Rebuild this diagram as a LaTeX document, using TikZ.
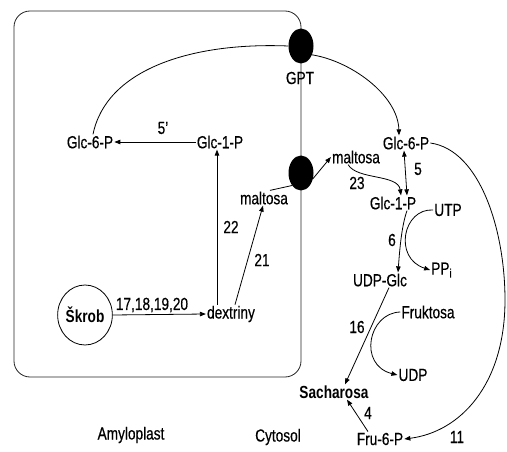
\documentclass[tikz,border=0pt]{standalone}
\usepackage{fontspec}
\setmainfont{Liberation Sans}[FakeStretch=0.78, FakeBold=0.4, BoldFeatures={FakeBold=0}]
\usetikzlibrary{arrows.meta,shapes.geometric,calc}
\begin{document}
\begin{tikzpicture}[x=1pt,y=-1pt,
  every node/.style={font=\fontsize{17.5}{20}\selectfont, inner sep=1pt},
  conn/.style={line width=0.8pt},
  arr/.style={conn,-{Triangle[length=6pt,width=4.5pt]}},
  darr/.style={conn,{Triangle[length=6pt,width=4.5pt]}-{Triangle[length=6pt,width=4.5pt]}},
  porter/.style={ellipse, fill=black, minimum width=25pt, minimum height=35pt, inner sep=0pt}]
\useasboundingbox (0,0) rectangle (507,452);
% amyloplast
\draw[line width=0.8pt, black!85, rounded corners=16pt] (301,11) -- (14,11) -- (14,377) -- (301,377) -- cycle;
% transporters
\node[porter] (gpt) at (301,46) {};
\node[porter] (mt) at (301,173) {};
\node (gptl) at (300,78) {GPT};
% amyloplast content
\node (g6l) at (90,142) {Glc-6-P};
\node (g1l) at (220,142) {Glc-1-P};
\node[ellipse, draw, line width=0.8pt, minimum width=48pt, minimum height=60pt, inner sep=0pt, font=\fontsize{17.5}{20}\selectfont\bfseries] (skrob) at (85,315) {Škrob};
\node (dex) at (231,314) {dextriny};
\node (maltL) at (264,198) {maltosa};
% cytosol content
\node (maltR) at (356,157) {maltosa};
\node (g6r) at (406,143) {Glc-6-P};
\node (g1r) at (393,203) {Glc-1-P};
\node (utp) at (448,210) {UTP};
\node (ppi) at (442,270) {PP$_{\mathrm{i}}$};
\node (udpg) at (380,280) {UDP-Glc};
\node (fru) at (428,312) {Fruktosa};
\node (udp) at (413,375) {UDP};
\node[font=\fontsize{17.5}{20}\selectfont\bfseries] (sach) at (334,392) {Sacharosa};
\node (f6p) at (380,439) {Fru-6-P};
% labels
\node (l5p) at (163,128) {5’};
\node (l22) at (231,227) {22};
\node (l21) at (262,260) {21};
\node (l17) at (152,305) {17,18,19,20};
\node (l5) at (418,169) {5};
\node (l23) at (357,183) {23};
\node (l6) at (392,240) {6};
\node (l16) at (357,327) {16};
\node (l4) at (368,413) {4};
\node (l11) at (457,437) {11};
\node (amy) at (131,435) {Amyloplast};
\node (cyt) at (278,437) {Cytosol};
% connectors
\draw[arr] (g1l.west) -- (g6l.east);
\draw[arr] ([xshift=-3pt]dex.north -| g1l.south) -- ([xshift=-3pt]g1l.south);
\draw[arr] ([xshift=4pt]dex.north) -- ([xshift=-1pt]maltL.south);
\draw[arr] (skrob.east) -- (dex.west);
\draw[conn] ([xshift=6pt]maltL.north) -- (mt.south west);
\draw[arr] ([shift={(-1pt,-6pt)}]mt.east) -- (maltR.west);
\draw[conn] ([xshift=3pt]g6l.north) .. controls (106,70) and (190,42) .. (gpt.west);
\draw[arr] ([yshift=4pt]gpt.south east) .. controls (350,60) and (398,95) .. ([xshift=-7pt]g6r.north);
\draw[darr] ([xshift=-2pt]g6r.south) -- ([xshift=14pt]g1r.north);
\draw[arr] ([xshift=-33pt]maltR.south east) .. controls (357,180) and (398,174) .. ([xshift=8pt]g1r.north);
\draw[arr] ([xshift=14pt]g1r.south) .. controls (402,225) and (400,245) .. ([xshift=18pt]udpg.north);
\draw[arr] (utp.west) .. controls (403,208) and (393,258) .. (ppi.west);
\draw[arr] ([xshift=9pt]udpg.south) -- ([xshift=11pt]sach.north);
\draw[arr] (fru.west) .. controls (368,313) and (358,365) .. (udp.west);
\draw[arr] ([xshift=-12pt]f6p.north) -- ([xshift=13pt]sach.south);
\draw[arr] (g6r.east) .. controls (480,150) and (505,230) .. (505,300) .. controls (505,385) and (460,432) .. (f6p.east);
\end{tikzpicture}
\end{document}
